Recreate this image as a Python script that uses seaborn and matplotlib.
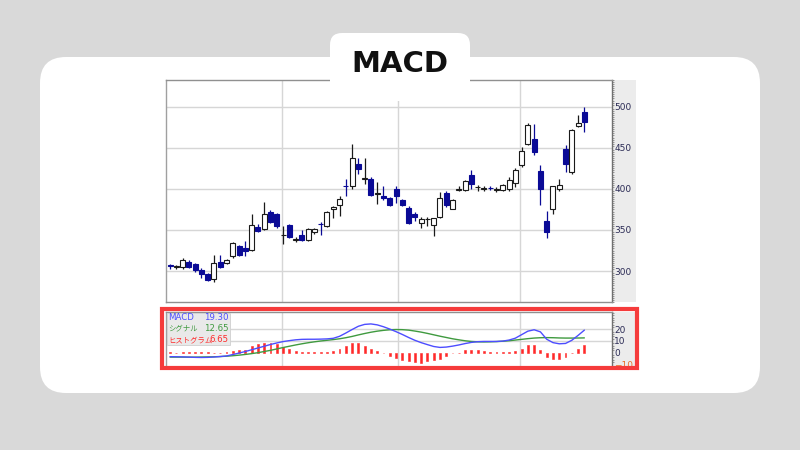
import numpy as np
import pandas as pd
import matplotlib
matplotlib.use("Agg")
import matplotlib.pyplot as plt
from matplotlib.patches import FancyBboxPatch, Rectangle
from matplotlib.ticker import MultipleLocator, NullFormatter
import seaborn as sns

sns.set_theme(style="white")
plt.rcParams["font.family"] = ["DejaVu Sans", "Noto Sans CJK JP"]

# ---- daily candles (price) ----
opens = [307, 305, 305, 311, 309, 301, 297, 290, 311, 310,
         318, 330, 328, 326, 354, 351, 372, 370, 343.5, 356,
         338, 344, 338, 347, 357.5, 355, 375, 380, 403.5, 403,
         430, 412.5, 412, 394, 391, 389, 400, 387, 377, 369,
         358, 363, 356, 366, 395, 376, 399, 399, 417, 402,
         400, 401, 398.7, 399, 400, 407, 429, 455, 461, 422,
         361, 376, 400, 449, 421, 476, 494]
highs = [309, 307, 316, 313, 310, 304, 298, 320, 319, 315,
         336, 332, 337, 369, 357, 384, 374, 371, 355, 357,
         342, 350, 352, 352, 360, 373, 379, 391, 412, 455,
         437, 437, 414, 409, 404, 390, 403, 388, 379, 372,
         366, 366, 365, 396, 397, 388, 403, 411, 423, 405,
         403, 403, 402, 406, 414, 425, 451, 480, 479, 429,
         373, 404, 412, 453, 473, 490, 500]
lows = [303, 303, 302, 304, 299, 292, 288, 287, 304, 309,
        316, 318, 318, 324, 347, 350, 358, 352, 333, 340,
        336, 337, 337, 345, 344, 354, 365, 367, 391, 400,
        418, 406, 391, 382, 386, 379, 383, 379, 357, 361,
        352, 355, 343, 364, 378, 375, 397, 397, 400, 398,
        398, 399, 396, 397, 397, 402, 427, 453, 441, 381,
        340, 369, 397, 421, 418, 475, 469]
closes = [306, 305.5, 314, 305, 301, 297, 289, 310, 305, 313,
          334, 320, 325, 356, 349, 370, 360, 355, 344, 342,
          338.5, 338, 351, 351, 357, 372, 377.5, 388, 403, 438,
          424, 413, 392, 394.5, 389, 381, 391, 381, 359, 366,
          363, 363.5, 364, 389, 380, 387, 399.5, 410, 406, 402.5,
          400.5, 400.5, 399, 405, 411, 423, 446, 478, 445, 400,
          347, 403, 405, 430, 472, 480, 481]

# ---- MACD indicator ----
macd = [-3.4, -3.5, -3.6, -3.8, -4.0, -4.1, -4.0, -3.7, -3.3, -2.8,
        -1.6, -0.3, 1.0, 2.5, 4.0, 5.5, 7.0, 8.3, 9.5, 10.3,
        11.0, 11.4, 11.5, 11.5, 11.6, 11.8, 12.3, 14.0, 16.8, 19.8,
        22.6, 24.2, 24.6, 23.8, 22.2, 20.2, 18.0, 15.6, 13.0, 10.6,
        8.6, 6.9, 5.3, 4.5, 4.8, 5.6, 6.6, 7.8, 8.8, 9.4,
        9.6, 9.6, 9.6, 9.9, 10.8, 12.4, 15.4, 18.4, 19.6, 17.8,
        11.5, 8.6, 7.6, 7.9, 10.6, 14.8, 19.30]
signal = [-3.8, -3.8, -3.8, -3.8, -3.8, -3.7, -3.6, -3.5, -3.3, -3.0,
          -2.6, -2.1, -1.5, -0.8, 0.0, 1.0, 2.0, 3.2, 4.4, 5.5,
          6.6, 7.6, 8.5, 9.3, 10.0, 10.6, 11.2, 11.9, 12.8, 13.9,
          15.2, 16.4, 17.5, 18.4, 19.1, 19.6, 19.8, 19.7, 19.3, 18.5,
          17.6, 16.5, 15.3, 14.1, 13.0, 11.9, 11.0, 10.2, 9.6, 9.3,
          9.2, 9.3, 9.5, 9.8, 10.2, 10.8, 11.4, 12.0, 12.5, 12.8,
          12.9, 12.8, 12.6, 12.5, 12.5, 12.55, 12.65]
hist = [0.5, 0, 0.5, 0.5, 0.5, 0.3, 0.3, 0, 0, 0.5,
        1.5, 2.0, 2.5, 6.0, 7.5, 8.0, 8.5, 7.5, 5.0, 3.5,
        1.5, 0.3, 0.3, 0.3, 0.3, 0.3, 1.5, 3.0, 6.0, 8.5,
        8.5, 6.0, 3.0, 1.5, 0, -3.0, -4.5, -6.0, -7.5, -8.0,
        -8.5, -7.5, -6.5, -5.0, -3.0, -0.3, 0, 2.0, 2.5, 2.3,
        1.5, 0.8, 0.3, 0.3, 0.3, 1.2, 3.5, 6.5, 6.5, 2.0,
        -4.0, -5.0, -5.0, -4.0, 0, 3.5, 6.65]

price_ticks = [300, 350, 400, 450, 500]
macd_ticks = [20, 10, 0, -10]
macd_grid = [20, 10]
period_breaks = [17.8, 36.3, 55.8]
legend_names = ["MACD", "シグナル", "ヒストグラム"]
legend_values = ["19.30", "12.65", "6.65"]
title = "MACD"

UP_EDGE = "#1a1a1a"
DOWN = "#0a0a96"
C_MACD = "#4d4dff"
C_SIG = "#3f9a3f"
C_HIST = "#ff2a2a"
LABEL = "#2b2b55"

W, H = 800, 450
fig = plt.figure(figsize=(8, 4.5), dpi=100, facecolor="#d9d9d9")


def frame(l, t, r, b):
    return [l / W, 1 - b / H, (r - l) / W, (b - t) / H]


# background card and the grey price-scale strips
bg = fig.add_axes([0, 0, 1, 1], zorder=0)
bg.set_xlim(0, W)
bg.set_ylim(H, 0)
bg.axis("off")
bg.add_patch(FancyBboxPatch((40, 57), 720, 336,
                            boxstyle="round,pad=0,rounding_size=26",
                            fc="white", ec="none"))
bg.add_patch(Rectangle((612, 80), 24, 222, fc="#ececec", ec="none"))
bg.add_patch(Rectangle((612, 312), 24, 56, fc="#ececec", ec="none"))

df = pd.DataFrame(dict(i=np.arange(len(opens)), o=opens, h=highs,
                       l=lows, c=closes))
up = (df.c >= df.o).to_numpy()
edge = np.where(up, UP_EDGE, DOWN)
face = np.where(up, "white", DOWN)
xlim = (-0.64, 70.4)


def style_spines(a):
    for side, col in (("left", "#a0a0a0"), ("top", "#909090"),
                      ("bottom", "#909090"), ("right", "#707070")):
        a.spines[side].set_visible(True)
        a.spines[side].set_color(col)
        a.spines[side].set_linewidth(1)


# ---- price panel ----
ax = fig.add_axes(frame(166, 80, 612, 302), zorder=2)
ax.set_facecolor("white")
ax.vlines(df.i, df.l, df.h, colors=edge, lw=0.9, zorder=2)
body_bottom = np.minimum(df.o, df.c)
body_h = np.maximum((df.c - df.o).abs(), 0.7)
ax.bar(df.i, body_h, bottom=body_bottom, width=0.8, color=face,
       edgecolor=edge, lw=0.8, zorder=3)
ax.set_xlim(*xlim)
ax.set_ylim(262.4, 532.5)
ax.set_yticks(price_ticks)
ax.yaxis.set_minor_locator(MultipleLocator(2.5))
ax.yaxis.tick_right()
ax.set_xticks(period_breaks)
ax.xaxis.set_major_formatter(NullFormatter())
ax.grid(True, color="#d6d6d6", lw=1)
ax.tick_params(axis="y", which="major", length=0, pad=1.5,
               labelsize=6.5, labelcolor=LABEL)
ax.tick_params(axis="y", which="minor", right=True, length=1.5,
               width=0.6, color="#888888")
ax.tick_params(axis="x", length=2, color="#999999", direction="out")
style_spines(ax)

# ---- MACD panel ----
ax2 = fig.add_axes(frame(166, 312, 612, 368), zorder=2)
ax2.set_facecolor("white")
for g in macd_grid:
    ax2.axhline(g, color="#d6d6d6", lw=1, zorder=1)
for b in period_breaks:
    ax2.axvline(b, color="#d6d6d6", lw=1, zorder=1)
ax2.bar(df.i, hist, width=0.3, color=C_HIST, edgecolor=C_HIST, lw=0.4,
        zorder=2)
sns.lineplot(x=df.i, y=signal, ax=ax2, color=C_SIG, lw=1, zorder=3)
sns.lineplot(x=df.i, y=macd, ax=ax2, color=C_MACD, lw=1, zorder=4)
ax2.set_xlim(*xlim)
ax2.set_ylim(-13.1, 34.8)
ax2.set_yticks(macd_ticks)
ax2.yaxis.set_minor_locator(MultipleLocator(2))
ax2.yaxis.tick_right()
ax2.set_xticks([])
ax2.set_xlabel("")
ax2.set_ylabel("")
ax2.grid(False)
ax2.tick_params(axis="y", which="major", length=0, pad=1.5,
                labelsize=6.5, labelcolor=LABEL)
ax2.tick_params(axis="y", which="minor", right=True, length=1.5,
                width=0.6, color="#888888")
for lbl, v in zip(ax2.get_yticklabels(), macd_ticks):
    if v < 0:
        lbl.set_color("#e8702a")
style_spines(ax2)

# ---- overlay: title tab, value box, highlight frame ----
ov = fig.add_axes([0, 0, 1, 1], zorder=5)
ov.set_xlim(0, W)
ov.set_ylim(H, 0)
ov.axis("off")
ov.add_patch(FancyBboxPatch((330, 33), 140, 68,
                            boxstyle="round,pad=0,rounding_size=12",
                            fc="white", ec="none"))
ov.text(400, 64, title, ha="center", va="center", fontsize=21,
        fontweight="bold", color="#111111", family="DejaVu Sans")

ov.add_patch(Rectangle((167, 312.5), 63, 32.5, fc="#e9e9e9",
                       ec="#cfcfcf", lw=0.6))
for k, (name, val, col) in enumerate(zip(legend_names, legend_values,
                                         (C_MACD, C_SIG, C_HIST))):
    yy = 317 + k * 11.3
    size = 6.2 if name.isascii() else 5.3
    ov.text(168, yy, name, ha="left", va="center", fontsize=size,
            color=col, family=["DejaVu Sans", "Noto Sans CJK JP"])
    ov.text(229, yy, val, ha="right", va="center", fontsize=6.2, color=col)

ov.add_patch(Rectangle((162, 309), 475, 59, fill=False, ec="#f53b3b",
                       lw=3))

fig.savefig("out.png", dpi=100, facecolor=fig.get_facecolor())
